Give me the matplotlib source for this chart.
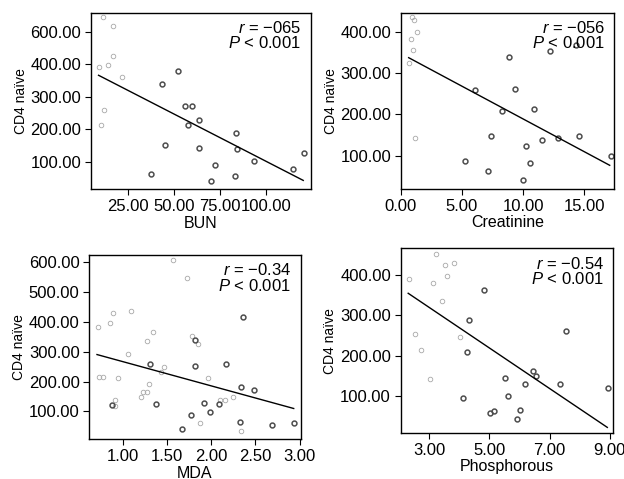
import matplotlib
matplotlib.use("Agg")
import matplotlib.pyplot as plt

plt.rcParams.update({"font.family": ["Liberation Sans", "DejaVu Sans"],
                     "mathtext.fontset": "custom",
                     "mathtext.it": "Liberation Sans:italic",
                     "mathtext.rm": "Liberation Sans",
                     "font.size": 11.5})

# BUN panel
bun_ctrl_x = [11.5, 16.8, 17.2, 9.5, 14.4, 21.7, 12.4, 10.6]
bun_ctrl_y = [546, 518, 425, 393, 398, 362, 258, 214]
bun_pat_x = [43.4, 52.3, 45.4, 37.8, 56.1, 60.0, 57.6, 63.8, 63.8, 72.5,
             69.8, 83.8, 84.2, 83.3, 93.3, 114.4, 120.6]
bun_pat_y = [339, 380, 150, 63, 271, 271, 212, 228, 142, 89,
             41, 187, 139, 55, 101, 77, 126]
bun_fit_x = [9.2, 120.0]
bun_fit_y = [366, 42]

# Creatinine panel
cre_ctrl_x = [0.93, 1.09, 1.34, 0.82, 0.96, 0.66, 1.17]
cre_ctrl_y = [435, 427, 398, 382, 356, 324, 143]
cre_pat_x = [8.82, 12.2, 14.3, 6.09, 9.32, 8.3, 10.87, 7.38, 11.56, 12.87,
             14.56, 10.25, 5.27, 10.55, 7.16, 9.97, 17.2]
cre_pat_y = [339, 352, 368, 258, 262, 209, 213, 147, 137, 143,
             148, 123, 88, 82, 63, 42, 100]
cre_fit_x = [0.63, 17.1]
cre_fit_y = [337, 77]

# MDA panel
mda_ctrl_x = [1.573, 1.730, 0.723, 0.888, 0.861, 1.094, 1.348, 1.281, 1.067,
              0.738, 0.783, 0.944, 1.303, 1.470, 1.206, 1.232, 1.273, 0.914,
              0.918, 1.787, 1.858, 1.970, 1.873, 2.097, 2.157, 2.251, 2.341,
              1.440]
mda_ctrl_y = [608, 548, 384, 431, 396, 436, 367, 335, 294,
              215, 215, 211, 193, 248, 150, 164, 164, 140,
              118, 354, 326, 211, 60, 137, 138, 149, 36,
              232]
mda_pat_x = [0.880, 1.315, 1.378, 1.824, 1.824, 2.169, 2.363, 2.341, 2.483,
             1.772, 1.925, 1.993, 2.094, 1.674, 2.326, 2.693, 2.936]
mda_pat_y = [121, 259, 124, 341, 254, 259, 416, 183, 173,
             87, 127, 97, 124, 40, 65, 53, 60]
mda_fit_x = [0.712, 2.933]
mda_fit_y = [291, 110]

# Phosphorous panel
pho_ctrl_x = [3.22, 2.32, 3.11, 3.51, 3.81, 3.59, 3.43, 2.53, 2.73, 4.03, 3.01]
pho_ctrl_y = [453, 390, 380, 426, 430, 397, 337, 253, 214, 247, 142]
pho_pat_x = [4.81, 4.33, 4.24, 7.54, 5.52, 6.45, 6.54, 6.20, 7.35, 8.95,
             4.12, 5.63, 5.01, 5.14, 6.01, 5.92]
pho_pat_y = [363, 289, 209, 262, 144, 161, 149, 128, 128, 120,
             94, 100, 58, 63, 64, 42]
pho_fit_x = [2.30, 8.92]
pho_fit_y = [355, 21]

panels = [
    dict(cx=bun_ctrl_x, cy=bun_ctrl_y, px=bun_pat_x, py=bun_pat_y,
         fx=bun_fit_x, fy=bun_fit_y, xlabel="BUN", r="−065",
         xlim=(5.1, 124.2), ylim=(14, 558),
         xticks=[25, 50, 75, 100], xtl=["25.00", "50.00", "75.00", "100.00"],
         yticks=[100, 200, 300, 400, 500],
         ytl=["100.00", "200.00", "300.00", "400.00", "600.00"],
         pos=[0.1458, 0.6044, 0.3526, 0.3685]),
    dict(cx=cre_ctrl_x, cy=cre_ctrl_y, px=cre_pat_x, py=cre_pat_y,
         fx=cre_fit_x, fy=cre_fit_y, xlabel="Creatinine", r="−056",
         xlim=(0, 17.48), ylim=(19, 445),
         xticks=[0, 5, 10, 15], xtl=["0.00", "5.00", "10.00", "15.00"],
         yticks=[100, 200, 300, 400],
         ytl=["100.00", "200.00", "300.00", "400.00"],
         pos=[0.6426, 0.6048, 0.3419, 0.3681]),
    dict(cx=mda_ctrl_x, cy=mda_ctrl_y, px=mda_pat_x, py=mda_pat_y,
         fx=mda_fit_x, fy=mda_fit_y, xlabel="MDA", r="−0.34",
         xlim=(0.625, 3.01), ylim=(6, 625),
         xticks=[1, 1.5, 2, 2.5, 3],
         xtl=["1.00", "1.50", "2.00", "2.50", "3.00"],
         yticks=[100, 200, 300, 400, 500, 600],
         ytl=["100.00", "200.00", "300.00", "400.00", "500.00", "600.00"],
         pos=[0.1431, 0.0825, 0.3385, 0.3851]),
    dict(cx=pho_ctrl_x, cy=pho_ctrl_y, px=pho_pat_x, py=pho_pat_y,
         fx=pho_fit_x, fy=pho_fit_y, xlabel="Phosphorous", r="−0.54",
         xlim=(2.05, 9.12), ylim=(7, 467),
         xticks=[3, 5, 7, 9], xtl=["3.00", "5.00", "7.00", "9.00"],
         yticks=[100, 200, 300, 400],
         ytl=["100.00", "200.00", "300.00", "400.00"],
         pos=[0.6421, 0.0960, 0.3408, 0.3856]),
]

fig = plt.figure(figsize=(6.24, 4.79), dpi=100)
for p in panels:
    ax = fig.add_axes(p["pos"])
    ax.plot(p["cx"], p["cy"], "o", ms=3.3, mfc="none", mec="#a8a8a8", mew=0.6)
    ax.plot(p["px"], p["py"], "o", ms=3.5, mfc="none", mec="#4d4d4d", mew=1.1)
    ax.plot(p["fx"], p["fy"], "-", color="black", lw=1.0)
    ax.set_xlim(p["xlim"]); ax.set_ylim(p["ylim"])
    ax.set_xticks(p["xticks"]); ax.set_xticklabels(p["xtl"])
    ax.set_yticks(p["yticks"]); ax.set_yticklabels(p["ytl"])
    ax.tick_params(direction="out", length=4, width=0.8, pad=3,
                   labelsize=12)
    for s in ax.spines.values():
        s.set_linewidth(1.0)
    ax.set_xlabel(p["xlabel"], fontsize=11.5, labelpad=1)
    ax.set_ylabel("CD4 naïve", fontsize=10, labelpad=2)
    ax.text(0.955, 0.96, "$r$ = " + p["r"] + "\n$P$ < 0.001",
            transform=ax.transAxes, ha="right", va="top", fontsize=12,
            multialignment="right", linespacing=0.95)

fig.savefig("out.png", dpi=100)
